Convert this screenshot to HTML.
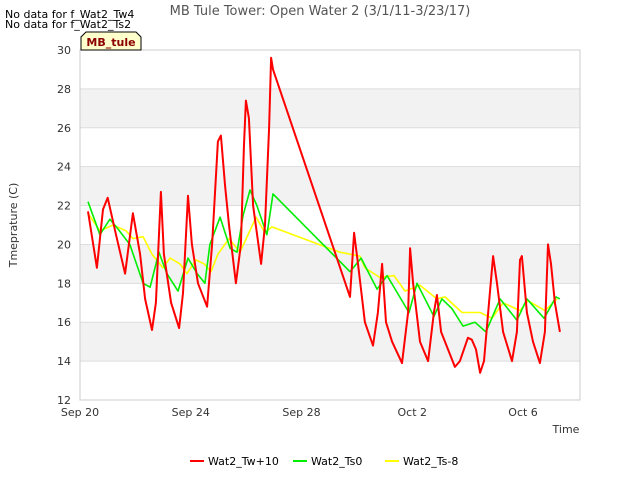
<!DOCTYPE html>
<html><head><meta charset="utf-8"><style>
body{margin:0;background:#fff;font-family:"DejaVu Sans","Liberation Sans",sans-serif;}
svg text{font-family:"DejaVu Sans","Liberation Sans",sans-serif;}
</style></head><body>
<svg id="chart" width="640" height="480" xmlns="http://www.w3.org/2000/svg">
<rect width="640" height="480" fill="#fff"/>
<g id="bands"></g>
<g id="grid"></g>
<rect x="80" y="50" width="500" height="350" fill="none" stroke="#ccc"/>
<g id="yticks"></g><g id="xticks"></g>
<g id="series"></g>
<text x="320" y="15" text-anchor="middle" font-size="13" fill="#555">MB Tule Tower: Open Water 2 (3/1/11-3/23/17)</text>
<text x="5" y="18" font-size="11" fill="#000">No data for f_Wat2_Tw4</text>
<text x="5" y="28" font-size="11" fill="#000">No data for f_Wat2_Ts2</text>
<path d="M81,50 L81,37 L86,32 L136,32 L141,37 L141,50 Z" fill="#ffffcc" stroke="#000"/>
<text x="111" y="46" text-anchor="middle" font-size="11" font-weight="bold" fill="#8b0000">MB_tule</text>
<text transform="translate(17,225) rotate(-90)" text-anchor="middle" font-size="11" fill="#333">Tmeprature (C)</text>
<text x="566" y="433" text-anchor="middle" font-size="11" fill="#333">Time</text>
<g id="legend"></g>
</svg>
<script>
const yTicks=[12,14,16,18,20,22,24,26,28,30];
const xTickLabels=["Sep 20","Sep 24","Sep 28","Oct 2","Oct 6"];
const xTickDays=[0,4,8,12,16];
const seriesNames=["Wat2_Tw+10","Wat2_Ts0","Wat2_Ts-8"];
const seriesColors=["#ff0000","#00ee00","#ffff00"];
const redDays=[0.29,0.61,0.83,1.0,1.3,1.63,1.91,2.17,2.35,2.6,2.74,2.92,3.03,3.29,3.58,3.72,3.9,4.04,4.26,4.59,4.77,4.98,5.09,5.24,5.38,5.63,5.81,5.92,5.99,6.1,6.25,6.54,6.68,6.83,6.9,6.97,9.75,9.9,10.04,10.29,10.58,10.76,10.91,11.05,11.27,11.63,11.85,11.92,12.03,12.28,12.57,12.78,12.89,13.04,13.32,13.54,13.72,14.01,14.15,14.3,14.45,14.59,14.77,14.92,15.06,15.28,15.6,15.78,15.89,15.96,16.14,16.36,16.61,16.79,16.9,17.01,17.15,17.33];
const redVals=[21.7,18.8,21.8,22.4,20.5,18.5,21.6,19.5,17.2,15.6,17,22.7,19.5,17.0,15.7,17.5,22.5,20.0,18.0,16.8,20,25.3,25.6,23,21,18,20,25,27.4,26.5,22,19,21,26,29.6,29.0,17.3,20.6,19,16,14.8,16.5,19,16,15,13.9,16.5,19.8,18,15,14,16.5,17.4,15.5,14.5,13.7,14,15.2,15.1,14.6,13.4,14,17,19.4,18,15.5,14,15.5,19.2,19.4,16.5,15,13.9,15.5,20,19,17,15.5];
const greenDays=[0.29,0.72,1.08,1.37,1.8,2.28,2.53,2.85,3.14,3.54,3.9,4.23,4.51,4.69,5.06,5.42,5.67,5.89,6.14,6.39,6.75,6.97,9.75,10.15,10.73,11.09,11.88,12.17,12.78,13.07,13.43,13.83,14.26,14.66,15.17,15.78,16.14,16.76,17.19,17.33];
const greenVals=[22.2,20.5,21.3,20.8,20,18,17.8,19.6,18.5,17.6,19.3,18.5,18,20,21.4,19.8,19.6,21.5,22.8,22,20.5,22.6,18.6,19.3,17.7,18.4,16.5,18,16.3,17.2,16.7,15.8,16,15.5,17.2,16.1,17.2,16.2,17.3,17.2];
const yellowDays=[0.29,0.72,1.19,1.66,1.91,2.28,2.6,2.99,3.25,3.61,3.86,4.19,4.48,4.73,4.98,5.38,5.78,6.36,6.68,6.93,9.39,10.11,10.29,10.83,11.34,11.74,12.28,12.89,13.18,13.8,14.45,14.88,15.28,15.89,16.18,16.79,17.23];
const yellowVals=[21.6,20.7,21.0,20.7,20.3,20.4,19.5,18.8,19.3,19,18.5,19.2,19,18.6,19.5,20.3,19.6,21.4,20.6,20.9,19.6,19.4,18.8,18.3,18.4,17.6,17.9,17.2,17.3,16.5,16.5,16.2,17,16.6,17.1,16.6,17.2];
const NS="http://www.w3.org/2000/svg";
const X=d=>80+d*27.69;
const Y=v=>50+(30-v)*(350/18);
function mk(tag,attrs,parent){const e=document.createElementNS(NS,tag);for(const k in attrs)e.setAttribute(k,attrs[k]);parent.appendChild(e);return e;}
const bands=document.getElementById('bands'),grid=document.getElementById('grid'),yt=document.getElementById('yticks'),xt=document.getElementById('xticks'),ser=document.getElementById('series'),leg=document.getElementById('legend');
for(let i=0;i<yTicks.length-1;i++){
 if(i%2===1){const r=mk('rect',{x:80,y:Y(yTicks[i+1]),width:500,height:Y(yTicks[i])-Y(yTicks[i+1]),fill:'#f2f2f2'},bands);
 
 }
}
yTicks.forEach(v=>{
 const l=mk('line',{x1:80,x2:580,y1:Y(v),y2:Y(v),stroke:'#ddd'},grid);
 
 
 const t=mk('text',{x:71,y:Y(v)+4,'text-anchor':'end','font-size':11,fill:'#333'},yt);t.textContent=v;
 
 
});
xTickDays.forEach((d,i)=>{
 const t=mk('text',{x:X(d),y:416,'text-anchor':'middle','font-size':11,fill:'#333'},xt);t.textContent=xTickLabels[i];
 
 
});
const all=[[redDays,redVals],[greenDays,greenVals],[yellowDays,yellowVals]];
[2,1,0].forEach(i=>{
 const [ds,vs]=all[i];
 const p=mk('polyline',{points:ds.map((d,j)=>X(d).toFixed(1)+','+Y(vs[j]).toFixed(1)).join(' '),fill:'none',stroke:seriesColors[i],'stroke-width':i===0?2:1.6,'stroke-linejoin':'round'},ser);
 
 
});
const legX=[190,293,385];
seriesNames.forEach((n,i)=>{
 const g=mk('g',{},leg);
 
 
 mk('line',{x1:legX[i],x2:legX[i]+14,y1:461,y2:461,stroke:seriesColors[i],'stroke-width':2},g);
 const t=mk('text',{x:legX[i]+18,y:465,'font-size':11,fill:'#000'},g);t.textContent=n;
});
</script>
</body></html>
